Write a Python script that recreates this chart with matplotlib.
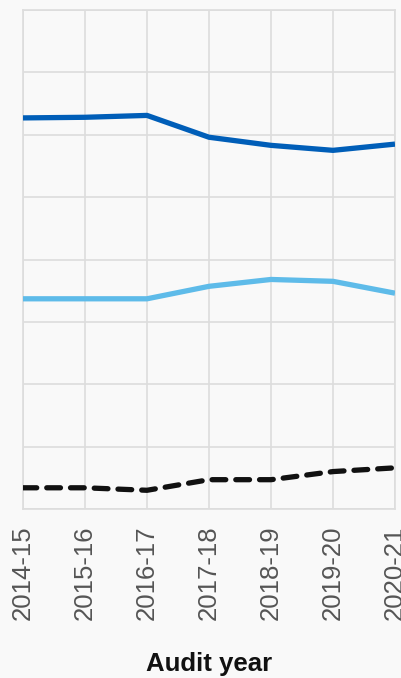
import matplotlib
matplotlib.use("Agg")
import matplotlib.pyplot as plt

years = ["2014-15", "2015-16", "2016-17", "2017-18", "2018-19", "2019-20", "2020-21"]
series_dark = [6.27, 6.28, 6.31, 5.96, 5.83, 5.75, 5.85]
series_light = [3.37, 3.37, 3.37, 3.57, 3.68, 3.65, 3.46]
series_black = [0.34, 0.34, 0.30, 0.47, 0.47, 0.60, 0.66]

plt.rcParams['font.family'] = ['Liberation Sans', 'DejaVu Sans']
bg = '#f9f9f9'
fig = plt.figure(figsize=(4.02, 6.78), dpi=100, facecolor=bg)
ax = fig.add_axes([23/402, 1-509/678, (395-23)/402, (509-10)/678])
ax.set_facecolor(bg)

x = list(range(len(years)))
ax.plot(x, series_dark, color='#005eb8', lw=3.8, solid_capstyle='butt', zorder=3)
ax.plot(x, series_light, color='#5ebbe9', lw=3.8, solid_capstyle='butt', zorder=3)
ax.plot(x, series_black, color='#111111', lw=3.8, linestyle=(0, (2.6, 1.9)),
        dash_capstyle='round', zorder=3)

ax.set_xlim(0, 6)
ax.set_ylim(0, 8)
ax.set_xticks(x)
ax.set_xticklabels(years, rotation=90, fontsize=18.5, color='#555555')
ax.set_yticks(range(0, 9))
ax.set_yticklabels([])
ax.tick_params(axis='both', length=0)
ax.tick_params(axis='x', pad=12)
ax.grid(True, color='#dddddd', lw=1.2, zorder=0)
for s in ax.spines.values():
    s.set_color('#dddddd')
    s.set_linewidth(1.2)
ax.set_xlabel('Audit year', fontsize=18.5, fontweight='bold', color='#111111', labelpad=23)

fig.savefig('out.png', dpi=100, facecolor=bg)
